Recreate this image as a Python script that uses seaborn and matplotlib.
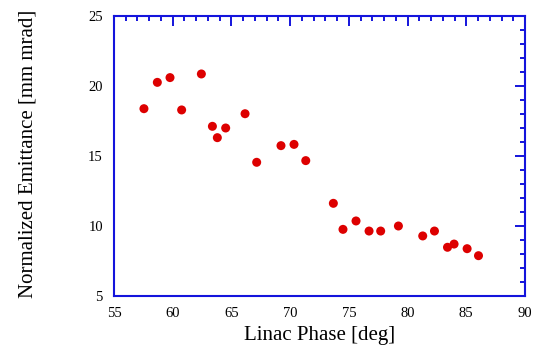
import matplotlib
matplotlib.use("Agg")
import matplotlib.pyplot as plt
from matplotlib.ticker import MultipleLocator
import seaborn as sns
import pandas as pd

phase = [57.55, 58.69, 59.77, 60.76, 62.44, 63.38, 63.8, 64.51, 66.16, 67.15,
         69.22, 70.33, 71.33, 73.68, 74.5, 75.61, 76.72, 77.71, 79.22, 81.29,
         82.29, 83.4, 83.96, 85.07, 86.04]
emittance = [18.38, 20.26, 20.6, 18.29, 20.86, 17.12, 16.31, 17.0, 18.02, 14.55,
             15.74, 15.83, 14.67, 11.62, 9.76, 10.36, 9.64, 9.64, 10.0, 9.29,
             9.64, 8.48, 8.71, 8.38, 7.88]

df = pd.DataFrame({"phase": phase, "emittance": emittance})

sns.set_style("white")
plt.rcParams["font.family"] = ["Liberation Serif", "DejaVu Serif"]
plt.rcParams["text.color"] = "black"
plt.rcParams["axes.labelcolor"] = "black"

fig = plt.figure(figsize=(5.36, 3.47), dpi=100)
ax = fig.add_axes([114 / 536, 1 - 296 / 347, 411 / 536, 280 / 347])

# emittance vs phase
sns.scatterplot(data=df, x="phase", y="emittance", ax=ax, color="#dd0000",
                s=42, edgecolor="none", zorder=3)

ax.set_xlim(55, 90)
ax.set_ylim(5, 25)
ax.xaxis.set_major_locator(MultipleLocator(5))
ax.xaxis.set_minor_locator(MultipleLocator(1))
ax.yaxis.set_major_locator(MultipleLocator(5))
ax.yaxis.set_minor_locator(MultipleLocator(1))

blue = "#1414dc"
for sp in ax.spines.values():
    sp.set_color(blue)
    sp.set_linewidth(1.5)
ax.tick_params(which="both", direction="in", top=True, right=True,
               color=blue, width=1.4, labelcolor="black")
ax.tick_params(which="major", length=7.5, labelsize=10.5, pad=8)
ax.tick_params(which="minor", length=3.5)

ax.set_xlabel("Linac Phase [deg]", fontsize=15)
ax.set_ylabel("Normalized Emittance [mm mrad]", fontsize=15)
ax.xaxis.set_label_coords(0.499, -0.108)
ax.yaxis.set_label_coords(-0.185, 0.509)

fig.savefig("out.png", dpi=100)
